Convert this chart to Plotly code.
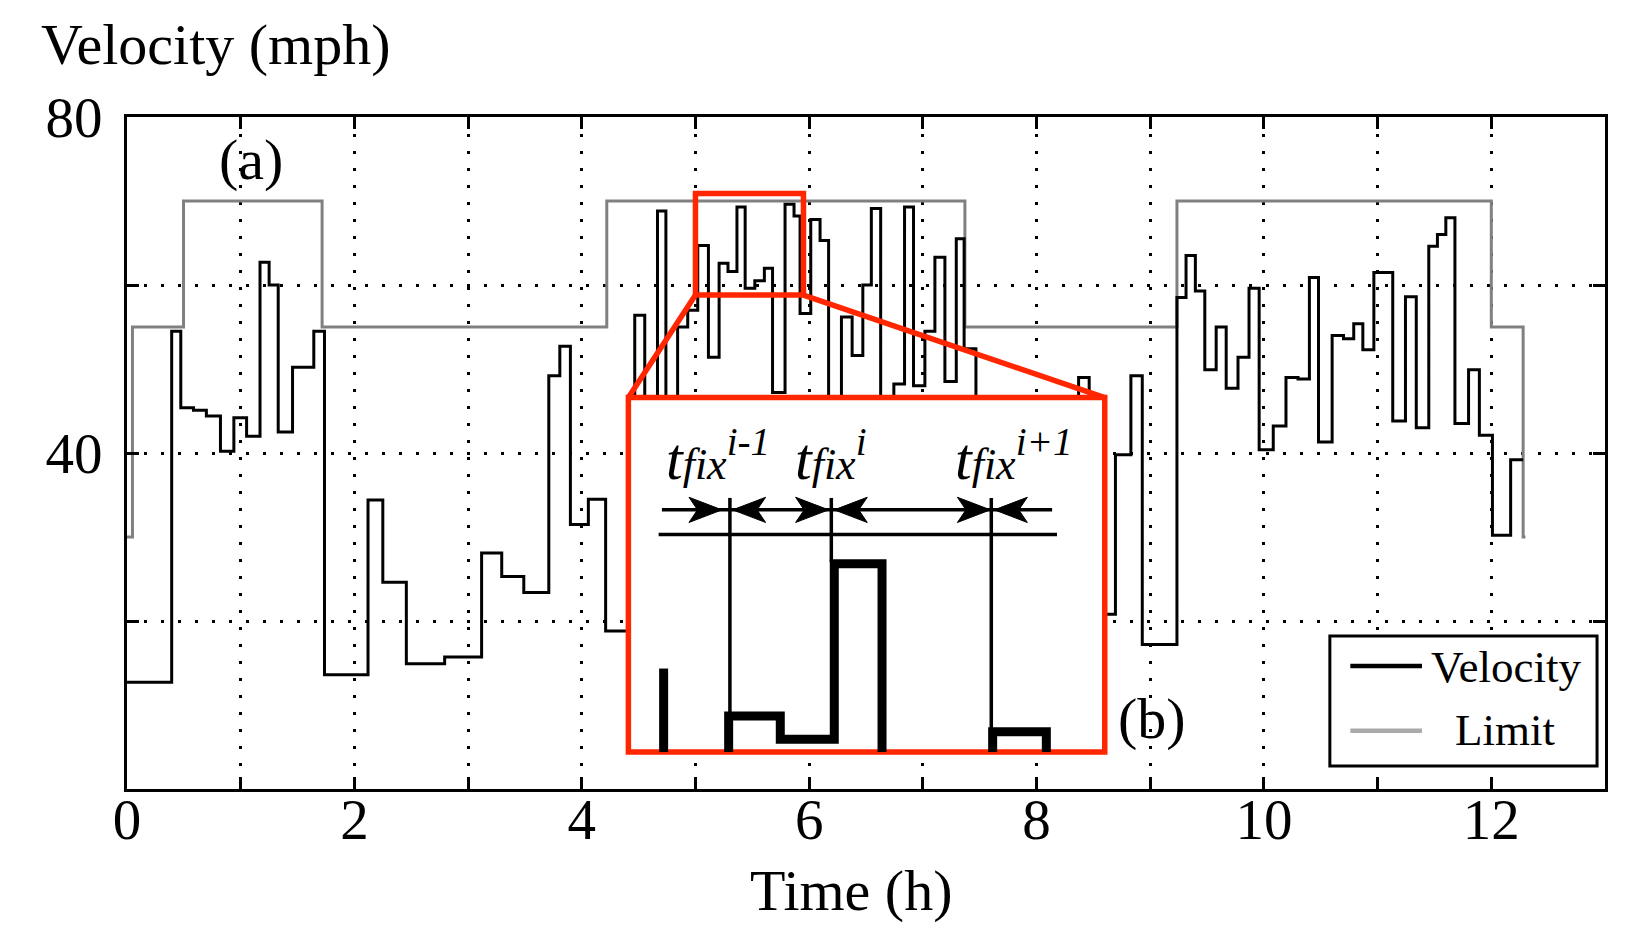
import plotly.graph_objects as go

# ---------------- data ----------------
vel_t = [0.00, 0.393, 0.473, 0.585, 0.698, 0.822, 0.94, 1.052, 1.17, 1.25, 1.33, 1.456, 1.643, 1.737,
         2.12, 2.25, 2.457, 2.794, 3.119, 3.296, 3.49, 3.71, 3.807, 3.90, 4.058, 4.21,
         4.466, 4.554, 4.666, 4.74, 4.843, 4.932, 5.02, 5.114, 5.208, 5.286, 5.365, 5.437, 5.522, 5.606,
         5.678, 5.788, 5.867, 5.92, 6.014, 6.096, 6.171, 6.284, 6.378, 6.472, 6.547, 6.629, 6.745,
         6.839, 6.918, 7.018, 7.106, 7.194, 7.294, 7.363, 7.467, 8.37, 8.463, 8.694, 8.83, 8.93,
         9.235, 9.315, 9.397, 9.48, 9.58, 9.668, 9.772, 9.869, 9.958, 10.082, 10.194, 10.30, 10.40,
         10.48, 10.60, 10.70, 10.79, 10.87, 10.967, 11.133, 11.245, 11.34, 11.45, 11.526, 11.60,
         11.68, 11.80, 11.895, 12.01, 12.17]
vel_v = [12.7, 54.5, 45.4, 45.1, 44.4, 40.2, 44.2, 42.0, 62.7, 60.0, 42.5, 50.2, 54.5, 13.6,
         34.4, 24.6, 14.9, 15.7, 28.1, 25.3, 23.4, 49.2, 52.7, 31.5, 34.5, 18.8,
         56.4, 30.0, 68.8, 38.0, 55.0, 57.0, 64.7, 51.4, 62.6, 61.6, 69.3, 59.6, 60.5, 62.0,
         47.2, 69.6, 68.2, 56.6, 67.8, 65.3, 30.0, 56.2, 51.6, 60.0, 69.1, 35.0, 48.2,
         69.3, 48.0, 54.5, 63.3, 48.5, 65.5, 52.4, 25.0, 49.0, 20.8, 39.8, 49.2, 17.2,
         58.5, 63.5, 59.3, 49.9, 55.0, 47.7, 51.4, 59.6, 40.4, 43.2, 49.0, 48.8, 60.9,
         41.3, 54.0, 53.6, 55.4, 52.3, 61.5, 43.8, 58.6, 43.0, 64.6, 66.0, 68.0,
         43.5, 49.9, 42.1, 30.2, 39.2]
vel_end = 12.28

lim_t = [0.0, 0.048, 0.497, 1.716, 4.22, 7.37, 9.235, 12.0, 12.28]
lim_v = [30, 55, 70, 55, 70, 55, 70, 55, 30]
lim_end = 12.30

x_ticks = [0, 2, 4, 6, 8, 10, 12]
x_ticktext = ["0", "2", "4", "6", "8", "10", "12"]
y_ticks = [40, 80]
y_ticktext = ["40", "80"]

# inset / zoom annotation geometry (data units)
zoom_box = dict(x0=5.0, x1=5.95, y0=58.8, y1=70.9)
inset_box = dict(x0=4.41, x1=8.60, y0=4.4, y1=46.6)
arrow_line = dict(x0=4.705, x1=8.137, y=33.23)
base_line = dict(x0=4.676, x1=8.18, y=30.30)
fix_x = [5.303, 6.195, 7.602]
fix_bottom = [8.60, 27.0, 7.02]
fix_top = 34.65
right_tips = [5.233, 6.171, 7.594]
left_tips = [5.327, 6.221, 7.629]
sketch_a_x = [4.72, 4.72]
sketch_a_y = [4.4, 14.34]
sketch_b_x = [5.292, 5.292, 5.746, 5.746, 6.221, 6.221, 6.641, 6.641]
sketch_b_y = [4.4, 8.68, 8.68, 5.91, 5.91, 26.82, 26.82, 4.4]
sketch_c_x = [7.614, 7.614, 8.086, 8.086]
sketch_c_y = [4.4, 6.82, 6.82, 4.4]
label_x = [5.20, 6.19, 7.80]
label_sup = ["i-1", "i", "i+1"]
label_y = 39.6

RED = "#FF2600"
FONT = "Liberation Serif"
ML, MR, MT, MB = 119, 43, 109, 165
W, H = 1640, 946

def px_to_paper(xp, yp):
    return (xp - ML) / (W - ML - MR), (H - MB - yp) / (H - MT - MB)

fig = go.Figure()
fig.add_trace(go.Scatter(x=lim_t + [lim_end], y=lim_v + [lim_v[-1]], mode="lines",
                         line=dict(color="rgb(128,128,128)", width=3, shape="hv"),
                         name="Limit", showlegend=False))
fig.add_trace(go.Scatter(x=vel_t + [vel_end], y=vel_v + [vel_v[-1]], mode="lines",
                         line=dict(color="black", width=3, shape="hv"),
                         name="Velocity", showlegend=False))

shapes = []
def seg(x0, y0, x1, y1, color="black", width=3):
    shapes.append(dict(type="line", xref="x", yref="y", x0=x0, y0=y0, x1=x1, y1=y1,
                       line=dict(color=color, width=width), layer="above"))

def polyline(xs, ys, color="black", width=9):
    d = "M" + " L".join(f"{a},{b}" for a, b in zip(xs, ys))
    shapes.append(dict(type="path", xref="x", yref="y", path=d,
                       line=dict(color=color, width=width), layer="above"))

# zoom box + connectors
shapes.append(dict(type="rect", xref="x", yref="y", **zoom_box, line=dict(color=RED, width=5.5), layer="above"))
seg(zoom_box["x0"], zoom_box["y0"], inset_box["x0"], inset_box["y1"], RED, 5.5)
seg(zoom_box["x1"], zoom_box["y0"], inset_box["x1"], inset_box["y1"], RED, 5.5)
# inset
shapes.append(dict(type="rect", xref="x", yref="y", **inset_box, fillcolor="white",
                   line=dict(color=RED, width=5.5), layer="above"))
seg(arrow_line["x0"], arrow_line["y"], arrow_line["x1"], arrow_line["y"], "black", 3.5)
seg(base_line["x0"], base_line["y"], base_line["x1"], base_line["y"], "black", 3.5)
for xv, yb in zip(fix_x, fix_bottom):
    seg(xv, fix_top, xv, yb, "black", 3.5)
polyline(sketch_a_x, sketch_a_y)
polyline(sketch_b_x, sketch_b_y)
polyline(sketch_c_x, sketch_c_y)

head_len, head_half, notch = 0.29, 1.5, 0.215
def head(tip, direction):
    yl = arrow_line["y"]
    bx = tip - direction * head_len
    nx = tip - direction * notch
    d = f"M{tip},{yl} L{bx},{yl + head_half} L{nx},{yl} L{bx},{yl - head_half} Z"
    shapes.append(dict(type="path", xref="x", yref="y", path=d, fillcolor="black",
                       line=dict(color="black", width=1), layer="above"))
for t in right_tips:
    head(t, 1)
for t in left_tips:
    head(t, -1)

# custom legend box
leg = dict(x0=10.58, x1=12.93, y0=2.74, y1=18.2)
shapes.append(dict(type="rect", xref="x", yref="y", **leg, fillcolor="white",
                   line=dict(color="black", width=3), layer="above"))
seg(10.76, 14.65, 11.39, 14.65, "black", 4.5)
seg(10.76, 6.93, 11.39, 6.93, "rgb(170,170,170)", 4.5)

vx, vy = px_to_paper(31, 36)
tx, ty = px_to_paper(843, 883)
annotations = [
    dict(x=vx, y=vy, xref="paper", yref="paper", text="Velocity (mph)", showarrow=False,
         xanchor="left", yanchor="middle", font=dict(family=FONT, size=58, color="black")),
    dict(x=tx, y=ty, xref="paper", yref="paper", text="Time (h)", showarrow=False,
         xanchor="center", yanchor="middle", font=dict(family=FONT, size=58, color="black")),
    dict(x=1.09, y=75.0, xref="x", yref="y", text="(a)", showarrow=False,
         xanchor="center", yanchor="middle", font=dict(family=FONT, size=58, color="black")),
    dict(x=9.016, y=8.4, xref="x", yref="y", text="(b)", showarrow=False,
         xanchor="center", yanchor="middle", font=dict(family=FONT, size=58, color="black")),
    dict(x=11.45, y=14.5, xref="x", yref="y", text="Velocity", showarrow=False,
         xanchor="left", yanchor="middle", font=dict(family=FONT, size=45, color="black")),
    dict(x=11.66, y=7.0, xref="x", yref="y", text="Limit", showarrow=False,
         xanchor="left", yanchor="middle", font=dict(family=FONT, size=45, color="black")),
]
for lx, sup in zip(label_x, label_sup):
    annotations.append(dict(
        x=lx, y=label_y, xref="x", yref="y", showarrow=False, xanchor="center", yanchor="middle",
        text=f"<i><span style='font-size:60px'>t</span><span style='font-size:44px'>fix</span><sup>{sup}</sup></i>",
        font=dict(family=FONT, size=56, color="black")))

grid_common = dict(showgrid=True, gridcolor="black", gridwidth=2.5, griddash="3px,14px")
fig.update_layout(
    width=W, height=H,
    margin=dict(l=ML, r=MR, t=MT, b=MB),
    paper_bgcolor="white", plot_bgcolor="white",
    font=dict(family=FONT, size=56, color="black"),
    shapes=shapes, annotations=annotations, showlegend=False,
    xaxis=dict(range=[0, 13], tickvals=x_ticks, ticktext=x_ticktext, ticks="inside", ticklen=12,
               tickwidth=3, tickcolor="black", showline=True, linecolor="black", linewidth=3,
               mirror="ticks", zeroline=False, ticklabelstandoff=-21,
               tickfont=dict(family=FONT, size=57), **grid_common,
               minor=dict(dtick=1, tick0=0, ticks="inside", ticklen=12, tickwidth=3, tickcolor="black",
                          **grid_common)),
    yaxis=dict(range=[0, 80], tickvals=y_ticks, ticktext=y_ticktext, ticks="inside", ticklen=12,
               tickwidth=3, tickcolor="black", showline=True, linecolor="black", linewidth=3,
               mirror="ticks", zeroline=False, ticklabelstandoff=10,
               tickfont=dict(family=FONT, size=57), **grid_common,
               minor=dict(dtick=20, tick0=0, ticks="inside", ticklen=12, tickwidth=3, tickcolor="black",
                          **grid_common)),
)
fig.write_html("out.html")
